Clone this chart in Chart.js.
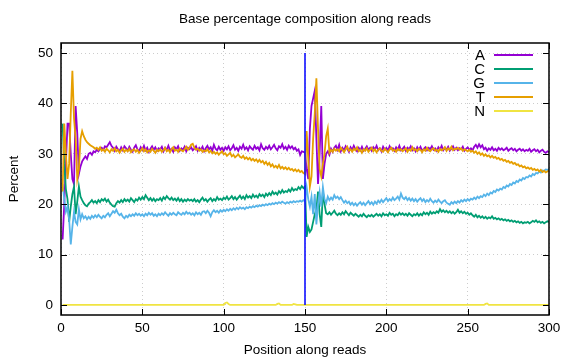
<!DOCTYPE html>
<html>
<head>
<meta charset="utf-8">
<script src="https://cdn.jsdelivr.net/npm/chart.js@4.4.1/dist/chart.umd.min.js"></script>
<style>
  html, body { margin: 0; padding: 0; background: #fff; }
  #chart { display: block; }
</style>
</head>
<body>
<canvas id="chart" width="576" height="360"></canvas>
<script>
const title = "Base percentage composition along reads";
const xTitle = "Position along reads";
const yTitle = "Percent";
const xTicks = [0, 50, 100, 150, 200, 250, 300];
const yTicks = [0, 10, 20, 30, 40, 50];
const bases = ["A", "C", "G", "T", "N"];
const colors = ["#9400d3", "#009e73", "#56b4e9", "#e69f00", "#f0e442"];

// read positions 1..300
const positions = Array.from({ length: 300 }, (_, i) => i + 1);

const baseA = [
  13, 20, 28, 36, 36, 30, 25, 24, 39.5, 34, 26, 27.5, 28.5, 29, 29.5, 29, 30, 30.2, 29.8, 30.5,
  30.3, 30.8, 30.5, 31, 31.2, 30.8, 31.5, 31.3, 31.8, 32.3, 31.6, 31.2, 30.6, 31.4, 30.9, 30.5, 31.3, 30.7, 31.5, 31.1,
  30.6, 31.4, 30.8, 30.4, 31.2, 31.7, 30.9, 30.5, 31.3, 30.8, 31.6, 30.7, 31.2, 30.4, 31, 31.5, 30.8, 31.3, 30.6, 31.1,
  30.9, 31.4, 30.5, 31.2, 30.8, 31.6, 30.7, 31, 30.4, 31.3, 30.9, 31.5, 30.6, 31.1, 30.8, 31.4, 30.5, 31.2, 30.9, 31.3,
  30.7, 31, 31.5, 30.6, 31.2, 30.8, 31.4, 30.5, 31.1, 31.6, 30.9, 31.3, 30.6, 31.8, 31, 30.7, 31.4, 30.8, 31.2, 30.6,
  31.3, 30.9, 31.5, 30.7, 31.1, 31.7, 30.8, 31.2, 30.6, 31.4, 31, 31.8, 30.9, 31.3, 30.7, 31.5, 31.1, 30.8, 31.6, 31,
  31.3, 30.7, 31.9, 31.1, 30.8, 31.4, 31, 31.6, 30.9, 31.3, 31.8, 31.1, 30.7, 31.5, 31.2, 31.9, 31, 31.4, 30.8, 31.6,
  31.1, 31.5, 30.9, 31.2, 30.6, 30.9, 29.8, 30.5, 30.4, 30.2,
  27, 25, 35, 39.5, 41, 42.5, 33, 24, 30, 39.5, 25, 28, 30, 30.5, 29.8, 31, 30.4, 31.2, 31.6, 30.8,
  31.8, 30.5, 31.2, 30.7, 31.5, 31, 30.4, 31.3, 30.8, 31.6, 30.9, 30.5, 31.2, 30.7, 31.4, 30.6, 31, 31.5, 30.8, 31.2,
  30.6, 31.3, 30.9, 31.6, 30.7, 31.1, 30.5, 31.4, 30.8, 31.2, 30.6, 31.5, 30.9, 31.1, 30.6, 31.3, 30.8, 31.6, 30.7, 31,
  31.4, 30.6, 31.2, 30.9, 31.5, 30.7, 31.1, 30.5, 31.3, 30.8, 31.4, 30.6, 31, 31.3, 30.7, 31.2, 30.9, 31.5, 30.8, 31.1,
  30.6, 31.3, 30.9, 31.6, 30.7, 31.2, 30.8, 31.4, 30.6, 31, 31.5, 30.8, 31.2, 30.7, 31.1, 30.9, 31.4, 30.6, 31, 31.3,
  30.8, 31.1, 30.7, 31.4, 31.8, 31.2, 31.9, 31.3, 31.7, 30.9, 31.2, 30.6, 31.1, 30.8, 31.3, 30.7, 31, 30.6, 31.2, 30.8,
  31.1, 30.7, 30.9, 31.2, 30.6, 30.9, 31.1, 30.7, 31, 30.5, 30.8, 31, 30.6, 30.9, 30.5, 30.8, 30.6, 31, 30.4, 30.7,
  30.9, 30.5, 30.8, 30.3, 30.6, 30.8, 30.4, 30.2, 30.5, 30.3
];

const baseC = [
  36, 28, 23, 21, 16.5, 19.5, 22, 23.5, 18, 20.5, 23.5, 21.5, 20.8, 20.2, 19.8, 19.6, 20.1, 20.4, 20.8, 20.3,
  20.6, 20.2, 20.8, 20.4, 21, 20.7, 21.1, 20.5, 20.9, 20.3, 19.9, 19.6, 19.5, 20.2, 20.6, 20.3, 20.8, 20.4, 21, 20.6,
  20.9, 20.5, 21.2, 20.8, 20.4, 21, 20.7, 21.3, 20.9, 21.4, 21, 21.8, 21.3, 20.8, 21.2, 20.7, 21.1, 20.6, 21, 20.8,
  21.2, 20.7, 21.4, 21, 21.6, 21.2, 20.9, 21.3, 20.8, 21.1, 20.7, 21.2, 20.6, 21, 20.5, 20.9, 20.6, 21, 20.7, 20.9,
  20.6, 21, 20.5, 20.8, 20.4, 20.9, 21.3, 20.7, 21, 20.5, 20.9, 21.2, 20.6, 21, 20.7, 21.4, 20.9, 21.1, 20.8, 21.3,
  21, 21.5, 20.9, 21.2, 21.6, 21, 21.4, 20.9, 21.3, 21.7, 21.1, 21.5, 21, 21.8, 21.3, 21.6, 21.2, 21.9, 21.4, 21.7,
  21.3, 22, 21.6, 21.9, 21.4, 22.1, 21.7, 22.2, 21.8, 22.5, 22, 22.3, 21.9, 22.6, 22.2, 22.8, 22.3, 22.6, 22.4, 22.9,
  22.5, 23.2, 22.7, 23, 22.8, 23.4, 23, 23.6, 23.2, 23.5,
  13.5, 15.5, 14.5, 15, 16.5, 18, 19, 22.5, 18, 15.5, 22.5, 20, 18.2, 18, 18.4, 17.9, 18.3, 18.7, 18.1, 17.8,
  18.2, 17.9, 18.4, 18, 18.6, 18.2, 17.8, 18.3, 18, 17.7, 18.1, 17.8, 17.5, 17.9, 17.6, 18.1, 17.7, 17.4, 17.8, 17.6,
  17.9, 17.5, 17.8, 18.1, 17.7, 18, 17.6, 18.2, 17.8, 18, 17.7, 18.3, 17.9, 18.1, 17.6, 18, 17.8, 18.3, 17.9, 18.2,
  17.8, 18.1, 17.7, 18.2, 17.9, 17.6, 18, 17.8, 18.2, 17.7, 18.1, 17.8, 18.4, 18, 18.3, 17.9, 18.5, 18.1, 18.4, 18.2,
  18.6, 18.3, 19, 18.5, 18.8, 18.4, 18.7, 18.3, 18.6, 18.2, 18.5, 18.1, 18.4, 18.9, 18.3, 18.6, 18.2, 18.5, 18.1, 18.3,
  17.9, 18.2, 17.8, 17.5, 17.9, 17.4, 17.7, 17.3, 17.6, 17.2, 17.5, 17.1, 17.4, 17.2, 17.6, 17.1, 17.3, 17, 17.2, 16.9,
  17.1, 16.8, 17, 16.7, 16.9, 16.6, 16.8, 16.5, 16.7, 16.4, 16.6, 16.3, 16.5, 16.2, 16.4, 16.3, 16.5, 16.2, 16.4, 16.7,
  16.5, 16.8, 16.4, 16.6, 16.3, 16.5, 16.2, 16.4, 16.6, 16.5
];

const baseG = [
  24, 21, 18.5, 19.5, 17, 12, 15.5, 18.5, 16.5, 16, 19, 17, 18, 17.2, 17.6, 17, 17.5, 17.1, 17.7, 17.3,
  17.8, 17.4, 17.9, 17.5, 17.2, 17.7, 17.4, 17.9, 18.2, 17.6, 18.1, 18.6, 18.3, 18.9, 18.2, 17.8, 18.1, 17.5, 17.2, 17.7,
  17.4, 17.9, 17.6, 18, 17.7, 18.2, 17.8, 18.1, 17.7, 18, 17.6, 18.1, 17.8, 18.3, 17.9, 18.2, 17.7, 18, 17.6, 18.1,
  17.8, 18.2, 17.9, 18.4, 18, 17.7, 18.2, 17.9, 18.3, 18, 17.8, 18.4, 18.1, 17.9, 18.3, 18, 18.5, 18.1, 18.3, 17.9,
  18.2, 17.8, 18.4, 18, 18.3, 17.9, 18.5, 18.6, 18.2, 18.7, 18.3, 17.6, 18.4, 18.8, 18.4, 18.7, 18.3, 18.8, 18.5, 18.9,
  18.6, 19, 18.7, 19.1, 18.8, 19.2, 18.9, 19.3, 19, 19.4, 19.1, 19.3, 19, 19.4, 19.2, 19.5, 19.3, 19.6, 19.4, 19.7,
  19.5, 19.8, 19.6, 19.9, 19.7, 20, 19.8, 20.1, 19.9, 20.2, 20, 20.3, 20.1, 20.4, 20.2, 20.5, 20.3, 20.1, 20.4, 20.2,
  20.5, 20.3, 20.6, 20.4, 20.6, 20.5, 20.7, 20.5, 20.8, 20.6,
  23.4, 21, 19.5, 21.5, 18, 22, 16, 20, 22.4, 19.5, 23.4, 21, 20.2, 21.5, 20.8, 21.3, 20.9, 21.8, 21.2, 21.5,
  21, 21.4, 20.8, 20.3, 20.7, 20.2, 20.5, 19.9, 20.3, 19.8, 20.2, 19.7, 20.1, 20.4, 19.9, 20.3, 19.8, 20.2, 20.6, 20,
  20.4, 19.9, 20.5, 20.1, 20.7, 20.3, 20.9, 20.4, 20.8, 21.2, 20.6, 21, 20.7, 21.3, 20.8, 21.1, 21.5, 20.9, 22.1, 21.3,
  21, 21.4, 20.8, 21.2, 20.7, 21.1, 20.6, 21, 20.5, 20.9, 21.2, 20.6, 21, 20.4, 20.8, 20.5, 21.1, 20.6, 20.3, 20.7,
  20.4, 20.9, 20.5, 20.2, 20.6, 20.8, 20.3, 20.1, 19.9, 20.4, 20.1, 20.5, 20.2, 20.6, 20.3, 20.8, 20.5, 20.9, 20.6, 21,
  20.7, 21.1, 20.9, 21.3, 21, 21.5, 21.2, 21.6, 21.4, 21.9, 21.6, 22.1, 21.8, 22.3, 22.1, 22.6, 22.4, 22.9, 22.7, 23.1,
  22.9, 23.4, 23.2, 23.7, 23.5, 24, 23.8, 24.3, 24.1, 24.6, 24.4, 24.9, 24.7, 25.2, 25, 25.4, 25.3, 25.7, 25.5, 26,
  25.8, 26.2, 26.1, 26.5, 26.3, 26.7, 26.6, 26.9, 26.8, 27
];

const baseT = [
  22.5, 36, 30, 25, 28, 38, 46.5, 37, 33, 25, 27, 33, 34.5, 33.5, 32.8, 32.3, 32, 31.7, 31.5, 31.3,
  31, 31.2, 30.8, 31.3, 30.6, 30.9, 30.4, 31, 30.7, 30.3, 30.9, 30.6, 31.1, 30.5, 30.8, 30.2, 30.7, 31, 30.4, 30.8,
  30.5, 31, 30.3, 30.7, 30.9, 30.4, 30.8, 30.2, 30.6, 31.1, 30.5, 30.9, 30.3, 30.7, 30.4, 31, 30.6, 30.2, 30.8, 30.5,
  30.9, 30.4, 30.7, 31.2, 30.5, 30.8, 30.3, 30.9, 31.3, 30.6, 30.8, 30.4, 31, 30.7, 30.5, 30.9, 31.4, 30.8, 31.2, 31.8,
  32, 31.2, 30.8, 31, 30.6, 30.9, 30.4, 30.7, 30.5, 30.9, 30.3, 30.6, 30.1, 30.4, 30, 30.3, 29.8, 30.2, 30.5, 29.9,
  30.1, 29.6, 29.9, 30.2, 29.5, 29.8, 29.3, 29.6, 29.9, 29.4, 29.2, 29.6, 29, 29.3, 28.9, 29.2, 28.7, 29, 28.6, 28.9,
  28.4, 28.8, 28.3, 28.6, 28, 28.4, 27.8, 28.2, 27.5, 27.9, 27.3, 27.6, 27.2, 27.8, 27.1, 27.4, 27, 27.3, 26.9, 27.2,
  26.8, 27, 26.6, 26.9, 26.5, 26.8, 26.4, 26.6, 26.2, 26,
  34.5, 29, 23.5, 25.5, 33, 38, 45, 35, 27, 25.5, 28, 30, 33.5, 35, 30.2, 30.8, 30.4, 31, 30.6, 30.9,
  30.5, 31.2, 30.8, 30.3, 30.9, 31.4, 30.6, 30.9, 30.4, 31, 30.7, 31.3, 30.5, 30.8, 30.2, 30.9, 30.6, 31.1, 30.4, 30.8,
  31.2, 30.5, 30.9, 30.3, 30.8, 31.1, 30.6, 30.4, 31, 30.7, 30.3, 30.9, 31.2, 30.6, 30.8, 30.4, 31, 30.7, 30.9, 30.5,
  30.8, 31.1, 30.4, 30.9, 30.6, 31.3, 30.7, 30.9, 30.5, 31, 30.8, 30.3, 30.9, 30.6, 31.2, 30.7, 30.5, 30.9, 31.1, 30.6,
  30.8, 30.4, 31, 30.7, 30.9, 31.3, 30.6, 31.1, 30.8, 31.4, 30.7, 31, 30.9, 31.2, 30.8, 31.1, 30.6, 30.9, 30.7, 30.5,
  30.8, 30.4, 30.6, 30.2, 30.5, 30, 30.3, 29.8, 30.1, 29.6, 29.9, 29.5, 29.7, 29.3, 29.6, 29.2, 29.4, 29, 29.2, 28.8,
  29, 28.6, 28.8, 28.4, 28.6, 28.2, 28.4, 28, 28.2, 27.8, 27.9, 27.5, 27.7, 27.3, 27.5, 27.1, 27.3, 27, 27.2, 26.8,
  27, 26.7, 26.9, 26.5, 26.8, 26.4, 26.6, 26.3, 26.5, 26.7
];

// N is zero almost everywhere, only a few small bumps
const nPositions = [1, 100, 101, 102, 103, 104, 132, 133, 134, 135, 142, 143, 144, 145, 260, 261, 262, 263, 300];
const baseN = [0, 0, 0.4, 0.5, 0.2, 0, 0, 0.2, 0.3, 0, 0, 0.2, 0.1, 0, 0, 0.2, 0.3, 0, 0];

// vertical marker at the read-pair junction
const markerX = [150, 150];
const markerY = [0, 50];

function toPoints(xs, ys) {
  return ys.map((v, i) => ({ x: xs[i], y: v }));
}

const FONT = '"Liberation Sans", Arial, sans-serif';
Chart.defaults.font.family = FONT;
Chart.defaults.font.size = 13.5;
Chart.defaults.color = "#000";

const series = [baseA, baseC, baseG, baseT];
const datasets = series.map((vals, i) => ({
  label: bases[i],
  data: toPoints(positions, vals),
  borderColor: colors[i],
  borderWidth: 1.8,
  order: 5 - i
}));
datasets.push({
  label: "N",
  data: toPoints(nPositions, baseN),
  borderColor: colors[4],
  borderWidth: 1.8,
  order: 1
});
datasets.push({
  label: "",
  data: toPoints(markerX, markerY),
  borderColor: "#1010ff",
  borderWidth: 1.6,
  order: 0
});

const framePlugin = {
  id: "frame",
  afterDatasetsDraw(chart) {
    const { ctx, chartArea: a, scales: { x, y } } = chart;
    ctx.save();
    ctx.strokeStyle = "#000";
    ctx.lineWidth = 1.5;
    ctx.strokeRect(a.left, a.top, a.right - a.left, a.bottom - a.top);
    ctx.beginPath();
    xTicks.forEach(t => {
      const px = Math.round(x.getPixelForValue(t)) + 0.5;
      ctx.moveTo(px, a.bottom); ctx.lineTo(px, a.bottom - 6);
      ctx.moveTo(px, a.top); ctx.lineTo(px, a.top + 6);
    });
    yTicks.forEach(t => {
      const py = Math.round(y.getPixelForValue(t)) + 0.5;
      ctx.moveTo(a.left, py); ctx.lineTo(a.left + 6, py);
      ctx.moveTo(a.right, py); ctx.lineTo(a.right - 6, py);
    });
    ctx.lineWidth = 1;
    ctx.stroke();

    // legend, top right inside the plot
    ctx.font = "15px " + FONT;
    ctx.textAlign = "right";
    ctx.textBaseline = "middle";
    bases.forEach((b, i) => {
      const ly = a.top + 12 + i * 14;
      ctx.fillStyle = "#000";
      ctx.fillText(b, a.right - 64, ly + 1);
      ctx.strokeStyle = colors[i];
      ctx.lineWidth = 1.8;
      ctx.beginPath();
      ctx.moveTo(a.right - 55, ly);
      ctx.lineTo(a.right - 16, ly);
      ctx.stroke();
    });

    // title centred over the plot
    ctx.font = "13.5px " + FONT;
    ctx.textAlign = "center";
    ctx.fillStyle = "#000";
    ctx.fillText(title, (a.left + a.right) / 2, 19);
    ctx.restore();
  }
};

new Chart(document.getElementById("chart"), {
  type: "line",
  data: { datasets },
  options: {
    responsive: false,
    devicePixelRatio: 1,
    animation: false,
    parsing: false,
    layout: { padding: { top: 43, right: 27, bottom: 0, left: 0 } },
    elements: { point: { radius: 0 }, line: { tension: 0 } },
    plugins: { legend: { display: false }, tooltip: { enabled: false } },
    scales: {
      x: {
        type: "linear",
        min: 0,
        max: 300,
        afterBuildTicks: s => { s.ticks = xTicks.map(v => ({ value: v })); },
        afterFit: s => { s.height = 45; },
        ticks: { padding: 5, maxRotation: 0 },
        grid: { color: "#cccccc", lineWidth: 1, drawTicks: false },
        border: { display: false, dash: [1, 3] },
        title: { display: true, text: xTitle, padding: { top: 0, bottom: 2 } }
      },
      y: {
        min: -2,
        max: 52,
        afterBuildTicks: s => { s.ticks = yTicks.map(v => ({ value: v })); },
        afterFit: s => { s.width = 61; },
        ticks: { padding: 8 },
        grid: { color: "#cccccc", lineWidth: 1, drawTicks: false },
        border: { display: false, dash: [1, 3] },
        title: { display: true, text: yTitle, padding: { top: 6, bottom: 0 } }
      }
    }
  },
  plugins: [framePlugin]
});
</script>
</body>
</html>
